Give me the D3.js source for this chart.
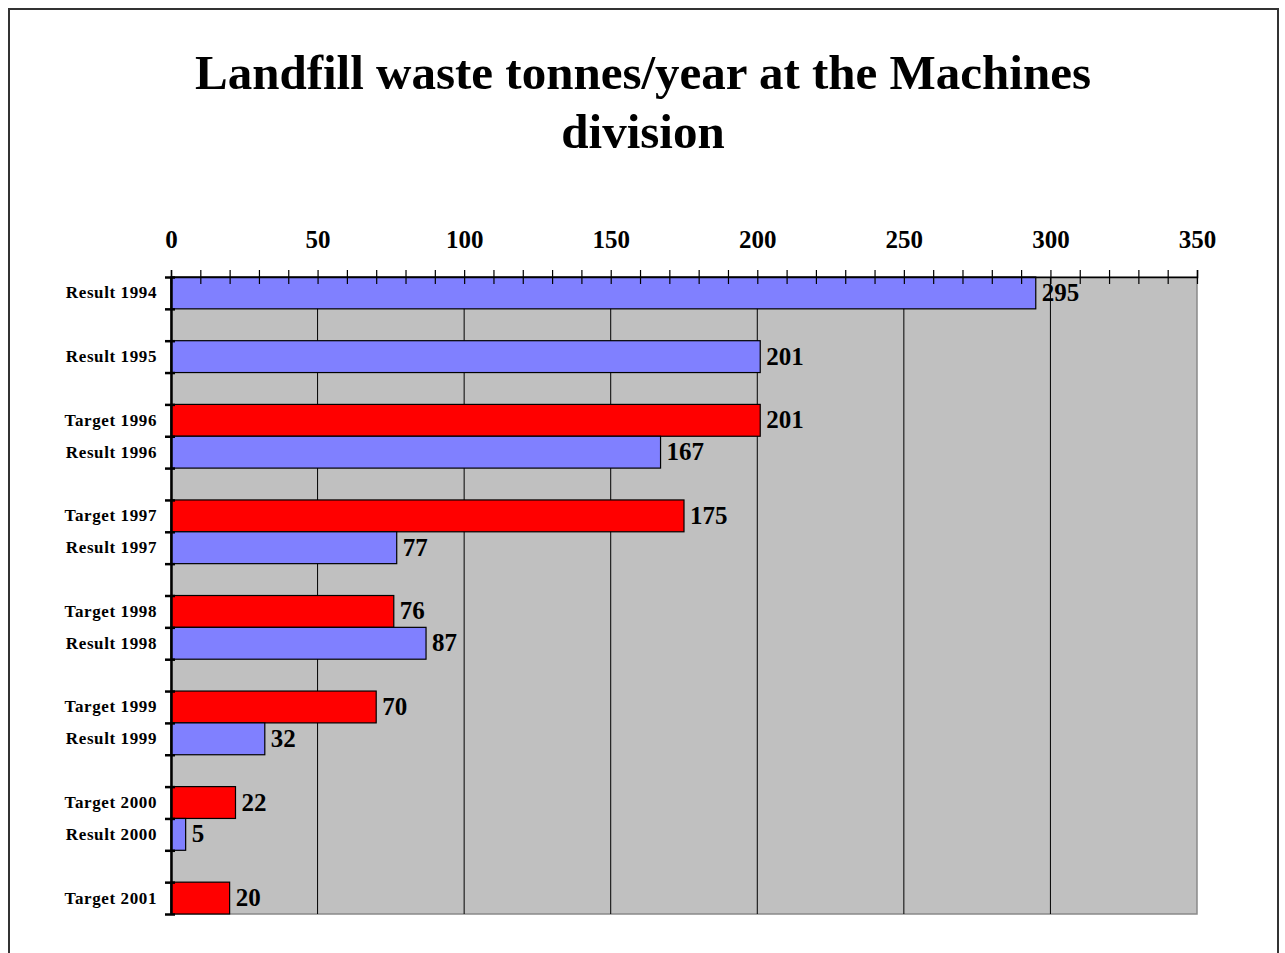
<!DOCTYPE html>
<html>
<head>
<meta charset="utf-8">
<script src="https://cdn.jsdelivr.net/npm/d3@7"></script>
<style>
  body { margin: 0; background: #fff; }
  text { font-family: "Liberation Serif", "Times New Roman", serif; font-weight: bold; fill: #000; }
</style>
</head>
<body>
<svg id="chart"></svg>
<script>
// Slots top to bottom; empty strings are the gaps between years
const categories = ['Result 1994', '', 'Result 1995', '', 'Target 1996', 'Result 1996', '',
    'Target 1997', 'Result 1997', '', 'Target 1998', 'Result 1998', '',
    'Target 1999', 'Result 1999', '', 'Target 2000', 'Result 2000', '', 'Target 2001'];
const values = [295, null, 201, null, 201, 167, null, 175, 77, null, 76, 87, null,
    70, 32, null, 22, 5, null, 20];
const xTicks = [0, 50, 100, 150, 200, 250, 300, 350];
const titleLines = ['Landfill waste tonnes/year at the Machines', 'division'];

const RESULT_COLOR = '#8080ff';
const TARGET_COLOR = '#ff0000';

const W = 1285, H = 953;
const svg = d3.select('#chart').attr('width', W).attr('height', H);

// outer frame (bottom edge runs off the page)
svg.append('rect')
    .attr('x', 9).attr('y', 9).attr('width', 1269).attr('height', 1000)
    .attr('fill', 'none').attr('stroke', '#333').attr('stroke-width', 2);

svg.append('g').selectAll('text')
    .data(titleLines)
    .join('text')
    .attr('x', 643)
    .attr('y', (d, i) => 89 + i * 59)
    .attr('text-anchor', 'middle')
    .attr('font-size', '49px')
    .text(d => d);

const pLeft = 171, pRight = 1197, pTop = 277, pBottom = 914;

const x = d3.scaleLinear().domain([0, 350]).range([pLeft, pRight]);
const idx = d3.range(categories.length);
const y = d3.scaleBand().domain(idx).range([pTop, pBottom]).padding(0);
const yEdge = d3.scaleLinear().domain([0, categories.length]).range([pTop, pBottom]);

// plot area
svg.append('rect')
    .attr('x', pLeft).attr('y', pTop)
    .attr('width', pRight - pLeft).attr('height', pBottom - pTop)
    .attr('fill', '#c0c0c0').attr('stroke', '#8a8a8a').attr('stroke-width', 1.5);

svg.append('g').selectAll('line')
    .data(xTicks.slice(1, -1))
    .join('line')
    .attr('x1', d => x(d)).attr('x2', d => x(d))
    .attr('y1', pTop).attr('y2', pBottom)
    .attr('stroke', '#000').attr('stroke-width', 1);

// bars
const bars = idx.filter(i => values[i] != null);
svg.append('g').selectAll('rect')
    .data(bars)
    .join('rect')
    .attr('x', x(0))
    .attr('y', i => y(i))
    .attr('width', i => x(values[i]) - x(0))
    .attr('height', y.bandwidth())
    .attr('fill', i => categories[i].startsWith('Target') ? TARGET_COLOR : RESULT_COLOR)
    .attr('stroke', '#000').attr('stroke-width', 1.2);

svg.append('g').selectAll('text')
    .data(bars)
    .join('text')
    .attr('x', i => x(values[i]) + 6)
    .attr('y', i => y(i) + y.bandwidth() / 2 + 8)
    .attr('font-size', '25px')
    .text(i => values[i]);

// top axis with minor ticks crossing the line
const xAxis = svg.append('g')
    .attr('transform', `translate(0,${pTop})`)
    .call(d3.axisTop(x)
        .tickValues(d3.range(0, 351, 10))
        .tickSize(7)
        .tickPadding(22)
        .tickFormat(d => d % 50 === 0 ? d : ''));
xAxis.select('.domain').attr('stroke', '#000').attr('stroke-width', 1.5);
xAxis.selectAll('.tick line').attr('y1', 7).attr('stroke', '#000').attr('stroke-width', 1.2);
xAxis.selectAll('.tick text')
    .attr('font-size', '25px')
    .attr('font-family', '"Liberation Serif", serif')
    .attr('font-weight', 'bold');

// left axis: ticks on slot edges, labels in slot centres
const yAxis = svg.append('g')
    .attr('transform', `translate(${pLeft},0)`)
    .call(d3.axisLeft(yEdge)
        .tickValues(d3.range(categories.length + 1))
        .tickSize(6)
        .tickSizeOuter(0)
        .tickFormat(''));
yAxis.select('.domain').attr('stroke', '#000').attr('stroke-width', 2.5);
yAxis.selectAll('.tick line').attr('x2', -6).attr('x1', 4).attr('stroke', '#000').attr('stroke-width', 2.5);

svg.append('g').selectAll('text')
    .data(idx.filter(i => categories[i]))
    .join('text')
    .attr('x', 157)
    .attr('y', i => y(i) + y.bandwidth() / 2 + 5.5)
    .attr('text-anchor', 'end')
    .attr('font-size', '17px')
    .attr('letter-spacing', '0.6px')
    .text(i => categories[i]);
</script>
</body>
</html>
